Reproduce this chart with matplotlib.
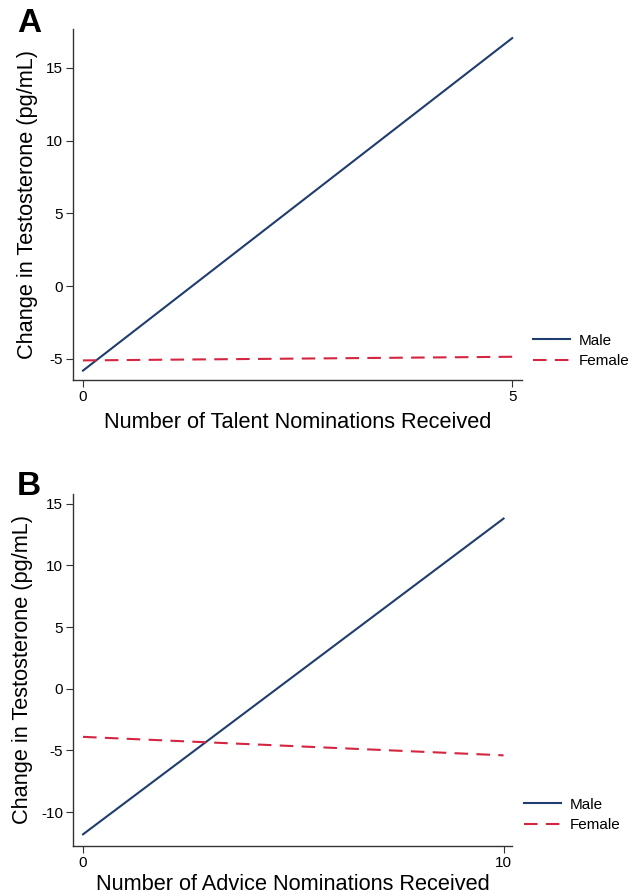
import numpy as np
import matplotlib.pyplot as plt

plt.rcParams['font.family'] = ['Liberation Sans', 'DejaVu Sans']
plt.rcParams['axes.unicode_minus'] = False

# Panel A: talent nominations (endpoints of fitted lines)
talent_x = [0, 5]
talent_male = [-5.8, 17.05]
talent_female = [-5.1, -4.85]

# Panel B: advice nominations
advice_x = [0, 10]
advice_male = [-11.8, 13.8]
advice_female = [-3.9, -5.4]

male_color = '#1f3d6d'
female_color = '#d42541'

fig = plt.figure(figsize=(6.4, 8.96), dpi=100)

panels = [
    dict(rect=[0.114, 0.576, 0.702, 0.392], x=talent_x, m=talent_male, f=talent_female,
         xlim=(-0.117, 5.117), ylim=(-6.44, 17.7), yticks=[-5, 0, 5, 10, 15],
         xticks=[0, 5], xlabel='Number of Talent Nominations Received', letter='A',
         leg=(0.833, 1 - 351 / 896), let=(17 / 640, 1 - 23 / 896), xpad=6),
    dict(rect=[0.114, 0.0558, 0.686, 0.393], x=advice_x, m=advice_male, f=advice_female,
         xlim=(-0.24, 10.2), ylim=(-12.75, 15.8), yticks=[-10, -5, 0, 5, 10, 15],
         xticks=[0, 10], xlabel='Number of Advice Nominations Received', letter='B',
         leg=(0.819, 1 - 815 / 896), let=(17 / 640, 1 - 486 / 896), xpad=3),
]

for p in panels:
    ax = fig.add_axes(p['rect'])
    ax.plot(p['x'], p['m'], color=male_color, lw=1.5, label='Male')
    ax.plot(p['x'], p['f'], color=female_color, lw=1.5, ls=(0, (6.5, 4)), label='Female')
    ax.set_xlim(*p['xlim'])
    ax.set_ylim(*p['ylim'])
    ax.set_xticks(p['xticks'])
    ax.set_yticks(p['yticks'])
    ax.spines['top'].set_visible(False)
    ax.spines['right'].set_visible(False)
    for s in ['left', 'bottom']:
        ax.spines[s].set_color('#333333')
        ax.spines[s].set_linewidth(1.0)
    ax.tick_params(labelsize=11, length=5, width=0.8, color='#333333', pad=2)
    ax.set_xlabel(p['xlabel'], fontsize=15.7, labelpad=p['xpad'])
    ax.set_ylabel('Change in Testosterone (pg/mL)', fontsize=15.7, labelpad=6)
    ax.legend(loc='center left', bbox_to_anchor=p['leg'], bbox_transform=fig.transFigure,
              frameon=False, borderpad=0, borderaxespad=0, fontsize=11,
              handlelength=2.4, handletextpad=0.6, labelspacing=0.45)
    fig.text(p['let'][0], p['let'][1], p['letter'], fontsize=24,
             fontweight='bold', va='center', ha='left')

fig.savefig('out.png', dpi=100)
